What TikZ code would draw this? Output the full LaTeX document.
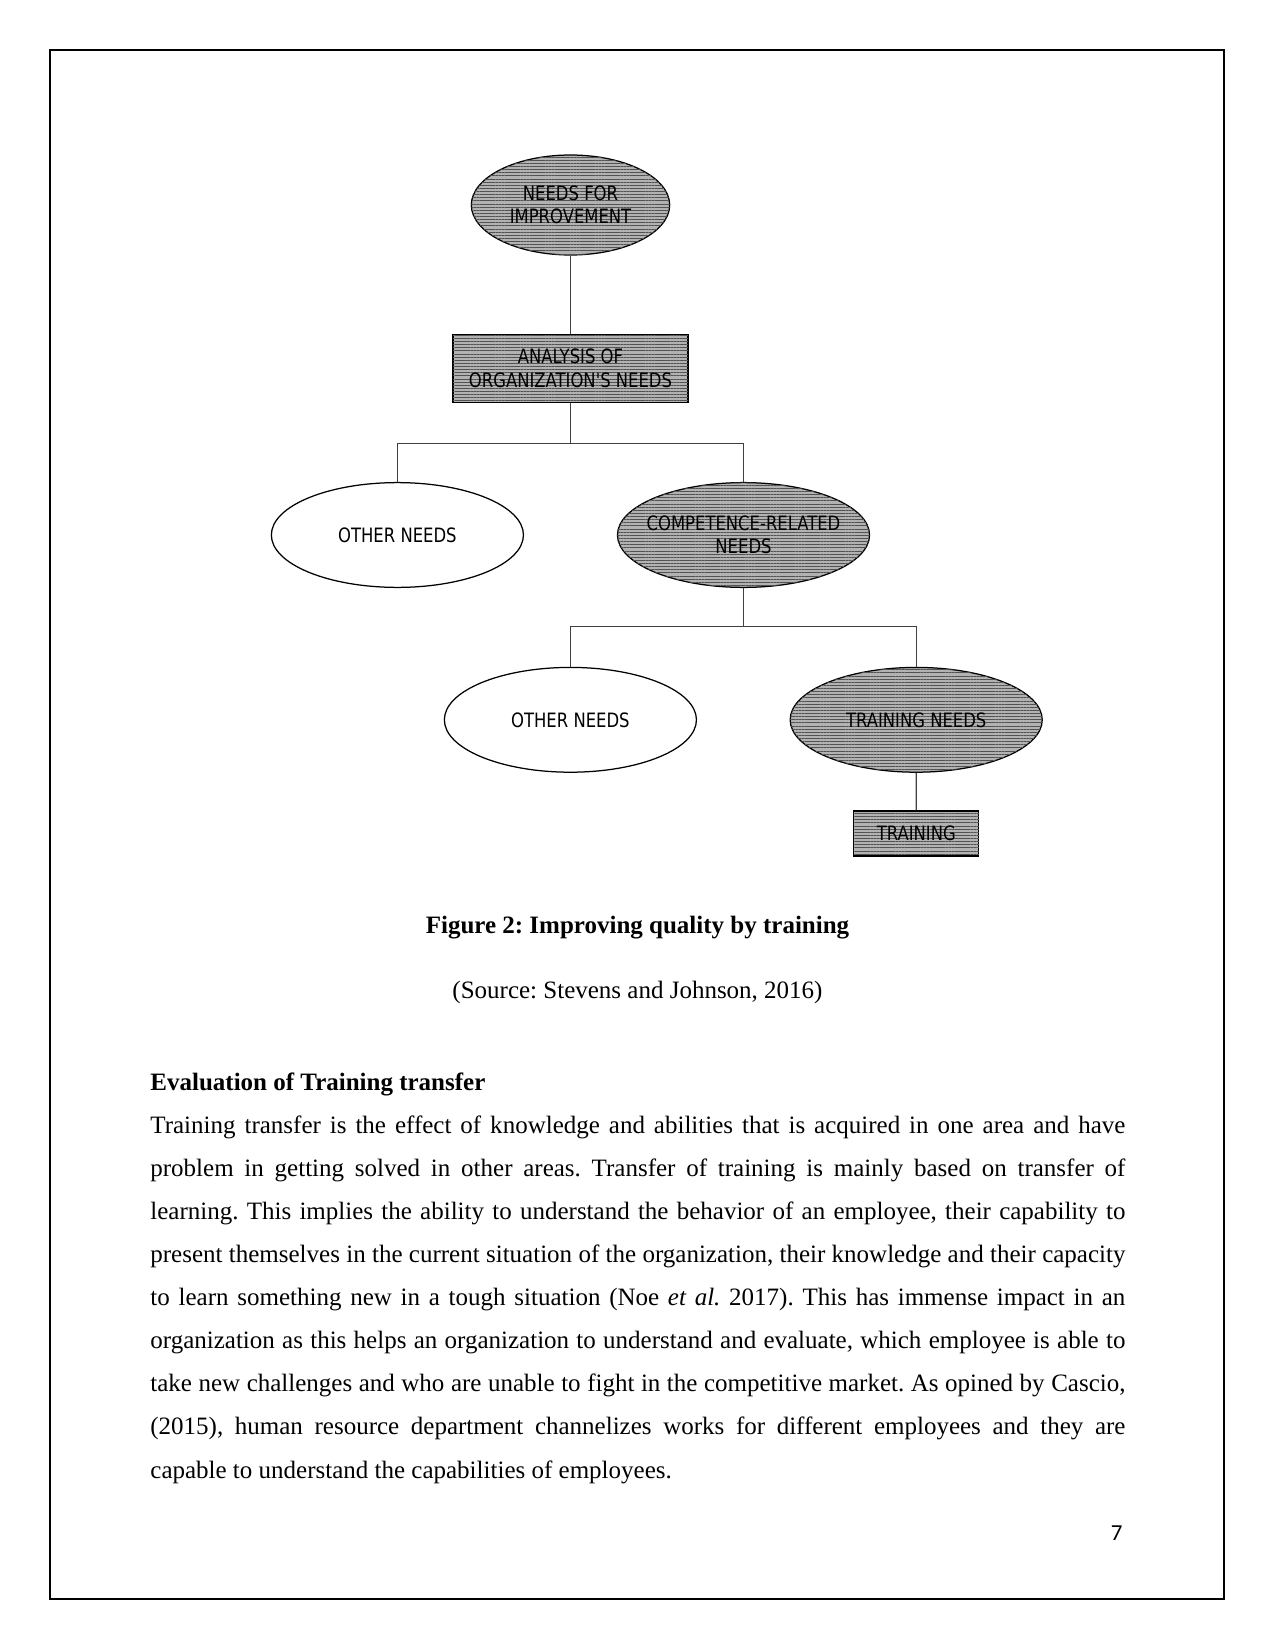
\documentclass[tikz,border=0pt]{standalone}
\usepackage{fontspec}
\setmainfont{Liberation Serif}
\newfontfamily\isofont[FakeStretch=0.83]{DejaVu Sans}
\newfontfamily\pgfont{Carlito}
\usetikzlibrary{shapes.geometric,patterns.meta}
\frenchspacing
\newcommand{\fullline}[1]{\noindent\makebox[468pt][s]{#1}\par}
\begin{document}
\begin{tikzpicture}[x=0.48pt,y=-0.48pt,
  lbl/.style={font=\isofont\fontsize{9.5}{11.2}\selectfont, text=black, align=center, inner sep=0pt},
  hatch/.style={fill=black!30, postaction={pattern={Lines[angle=0,distance=1.5pt,line width=0.45pt]}, pattern color=black!68}},
  ovalnode/.style={lbl, ellipse, draw=black, line width=0.6pt, inner xsep=-8pt, inner ysep=0pt, minimum width=121pt, minimum height=50.3pt},
  boxnode/.style={lbl, rectangle, draw=black, line width=0.6pt},
  conn/.style={draw=black!75, line width=0.6pt},
  body/.style={font=\fontsize{12}{20.7}\selectfont, inner sep=0pt}
]
\useasboundingbox (0,0) rectangle (1275,1651);
\draw[line width=0.7pt] (50,50) rectangle (1224,1599);

% diagram
\node[ovalnode, hatch, minimum width=95.2pt, minimum height=48pt] (nfi) at (570.5,205) {NEEDS FOR\\IMPROVEMENT};
\node[boxnode, hatch, minimum width=112.8pt, minimum height=32.6pt] (aon) at (570.5,368.3) {ANALYSIS OF\\ORGANIZATION'S NEEDS};
\node[ovalnode, fill=white] (on1) at (397.4,535) {OTHER NEEDS};
\node[ovalnode, hatch] (crn) at (743.5,535) {COMPETENCE-RELATED\\NEEDS};
\node[ovalnode, fill=white] (on2) at (570.4,719.8) {OTHER NEEDS};
\node[ovalnode, hatch] (tn) at (916.2,719.8) {TRAINING NEEDS};
\node[boxnode, hatch, minimum width=60pt, minimum height=21.6pt] (tr) at (916.3,833.5) {TRAINING};

\coordinate (b1) at (570.5,443.5);
\coordinate (b2) at (743.5,626.5);

\draw[conn] (nfi.south) -- (aon.north);
\draw[conn] (aon.south) -- (b1) -| (on1.north);
\draw[conn] (b1) -| (crn.north);
\draw[conn] (crn.south) -- (b2) -| (on2.north);
\draw[conn] (b2) -| (tn.north);
\draw[conn] (tn.south) -- (tr.north);

% captions and text
\node[body, anchor=base, font=\fontsize{12}{14}\selectfont\bfseries] (cap) at (637.5,933) {Figure 2: Improving quality by training};
\node[body, anchor=base] (src) at (637.5,998) {(Source: Stevens and Johnson, 2016)};
\node[body, anchor=base west, font=\fontsize{12}{14}\selectfont\bfseries] (head) at (150,1090) {Evaluation of Training transfer};
\node[body, anchor=base west, text width=468pt] (para) at (150,1133) {%
\spaceskip=0pt\xspaceskip=0pt\parindent=0pt\parskip=0pt
\fullline{Training transfer is the effect of knowledge and abilities that is acquired in one area and have}
\fullline{problem in getting solved in other areas. Transfer of training is mainly based on transfer of}
\fullline{learning. This implies the ability to understand the behavior of an employee, their capability to}
\fullline{present themselves in the current situation of the organization, their knowledge and their capacity}
\fullline{to learn something new in a tough situation (Noe \textit{et al.} 2017). This has immense impact in an}
\fullline{organization as this helps an organization to understand and evaluate, which employee is able to}
\fullline{take new challenges and who are unable to fight in the competitive market. As opined by Cascio,}
\fullline{(2015), human resource department channelizes works for different employees and they are}
\noindent capable to understand the capabilities of employees.};
\node[anchor=base east, inner sep=0pt, font=\pgfont\fontsize{11}{13}\selectfont] (pg) at (1123,1540) {7};
\end{tikzpicture}
\end{document}
